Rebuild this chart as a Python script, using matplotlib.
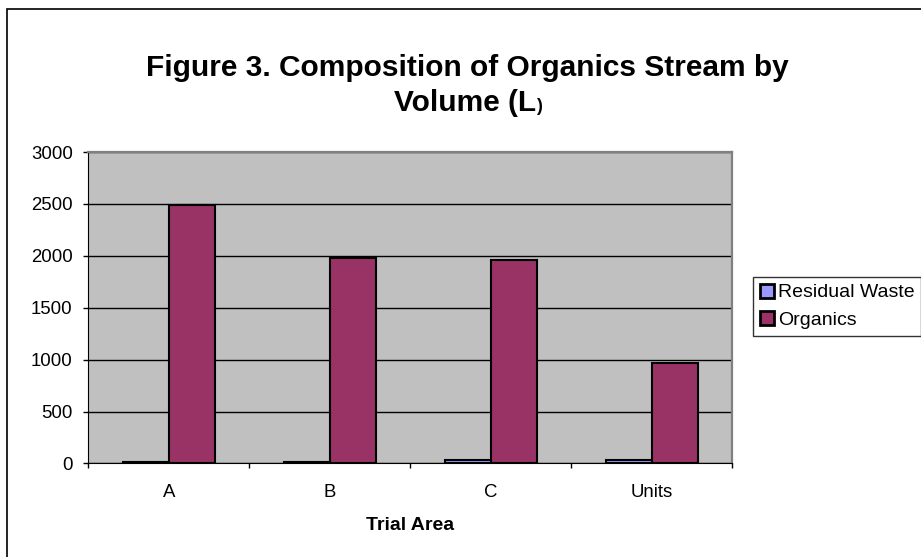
import numpy as np
import matplotlib.pyplot as plt
from matplotlib import font_manager
from matplotlib.font_manager import FontProperties
from matplotlib.patches import Rectangle

plt.rcParams['font.family'] = ['Liberation Sans', 'DejaVu Sans']

areas = ['A', 'B', 'C', 'Units']
residual = [10, 15, 30, 32]
organics = [2485, 1975, 1960, 968]

W, H = 921, 557
fig = plt.figure(figsize=(W / 100, H / 100), dpi=100)
ax = fig.add_axes([0.0958, 0.1679, 0.6995, 0.5592])
ax.set_facecolor('#C0C0C0')

x = np.arange(len(areas))
w = 0.2855
ax.bar(x - w / 2, residual, w, color='#9999FF', edgecolor='black', linewidth=1.5,
       label='Residual Waste', zorder=3)
ax.bar(x + w / 2, organics, w, color='#993366', edgecolor='black', linewidth=1.5,
       label='Organics', zorder=3)

ax.set_xlim(-0.5, len(areas) - 0.5)
ax.set_ylim(0, 3000)
ax.set_yticks(range(0, 3001, 500))
ax.yaxis.grid(True, color='black', linewidth=1, zorder=1)
ax.set_xticks(x)
ax.set_xticklabels(areas)
ax.set_xticks(np.arange(-0.5, len(areas)), minor=True)
ax.tick_params(axis='x', which='major', length=0, pad=15, labelsize=13.4)
ax.tick_params(axis='x', which='minor', length=3.6, width=1, direction='out')
ax.tick_params(axis='y', length=3.6, width=1, direction='out', labelsize=13.4, pad=7.6)

for side in ['top', 'right']:
    ax.spines[side].set_color('#808080')
    ax.spines[side].set_linewidth(1.6)
ax.spines['left'].set_color('black')
ax.spines['bottom'].set_color('black')

ax.set_xlabel('Trial Area', fontsize=14, fontweight='bold', labelpad=11)

# title: narrow bold face if present, small closing paren like the original
try:
    font_manager.findfont(FontProperties(family='Liberation Sans Narrow', weight='bold'),
                          fallback_to_default=False)
    tfam, tsize = ['Liberation Sans Narrow', 'Liberation Sans'], 26
except ValueError:
    tfam, tsize = ['Liberation Sans', 'DejaVu Sans'], 21.5

cx = 467.5
fig.text(cx / W, 1 - 76 / H, 'Figure 3. Composition of Organics Stream by',
         ha='center', va='baseline', family=tfam, fontsize=tsize, fontweight='bold')
r = fig.canvas.get_renderer()
t2 = fig.text(0, 1 - 111 / H, 'Volume (L', ha='left', va='baseline',
              family=tfam, fontsize=tsize, fontweight='bold')
t3 = fig.text(0, 1 - 111 / H, ')', ha='left', va='baseline',
              family=tfam, fontsize=tsize * 0.6, fontweight='bold')
w2 = t2.get_window_extent(renderer=r).width
w3 = t3.get_window_extent(renderer=r).width
x0 = cx - (w2 + w3) / 2
t2.set_x(x0 / W)
t3.set_x((x0 + w2 + 1) / W)

leg = fig.legend(loc='upper left', bbox_to_anchor=(752.7 / W, 1 - 276.7 / H),
                 borderaxespad=0, frameon=True, fancybox=False, edgecolor='black',
                 fontsize=14, handlelength=0.75, handleheight=0.75, handletextpad=0.2,
                 borderpad=0.35, labelspacing=0.5)
leg.get_frame().set_linewidth(1)
for h in leg.legend_handles:
    h.set_linewidth(2)

fig.patches.append(Rectangle((7 / W, -0.02), 1.1, 1 - 9 / H + 0.02,
                             transform=fig.transFigure, fill=False,
                             edgecolor='black', linewidth=1.2))

fig.savefig('out.png', dpi=100)
